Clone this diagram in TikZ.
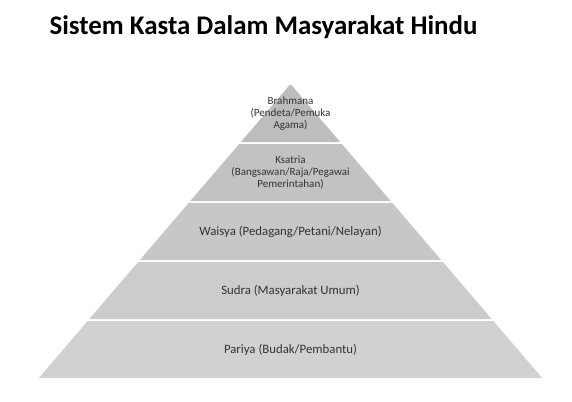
\documentclass[tikz,border=0pt]{standalone}
\usepackage{fontspec}
\setmainfont{Carlito}

\begin{document}
\begin{tikzpicture}[x=1pt,y=-1pt,
  kastatext/.style={align=center,text=black!80,font=\fontsize{#1}{11.7}\selectfont}]
\useasboundingbox (0,0) rectangle (572,401);

\node[font=\bfseries\fontsize{26.9}{30}\selectfont] (title) at (263.5,27) {Sistem Kasta Dalam Masyarakat Hindu};

\foreach \i/\shade/\size/\name/\txt in {
   1/26/11/brahmana/{Brahmana\\(Pendeta/Pemuka\\Agama)},
   2/24/11/ksatria/{Ksatria\\(Bangsawan/Raja/Pegawai\\Pemerintahan)},
   3/22/12.8/waisya/{Waisya (Pedagang/Petani/Nelayan)},
   4/20/12.8/sudra/{Sudra (Masyarakat Umum)},
   5/18/12.8/pariya/{Pariya (Budak/Pembantu)}}{
  \pgfmathsetmacro\yt{84+59*(\i-1)+1}
  \pgfmathsetmacro\yb{84+59*\i-1}
  \pgfmathsetmacro\wt{(\yt-84)*0.856}
  \pgfmathsetmacro\wb{(\yb-84)*0.856}
  \fill[black!\shade] (290.5-\wt,\yt) -- (290.5+\wt,\yt) -- (290.5+\wb,\yb) -- (290.5-\wb,\yb) -- cycle;
  \node[kastatext=\size] (\name) at (290.5,{84+59*(\i-0.5)}) {\txt};
}
\end{tikzpicture}
\end{document}
